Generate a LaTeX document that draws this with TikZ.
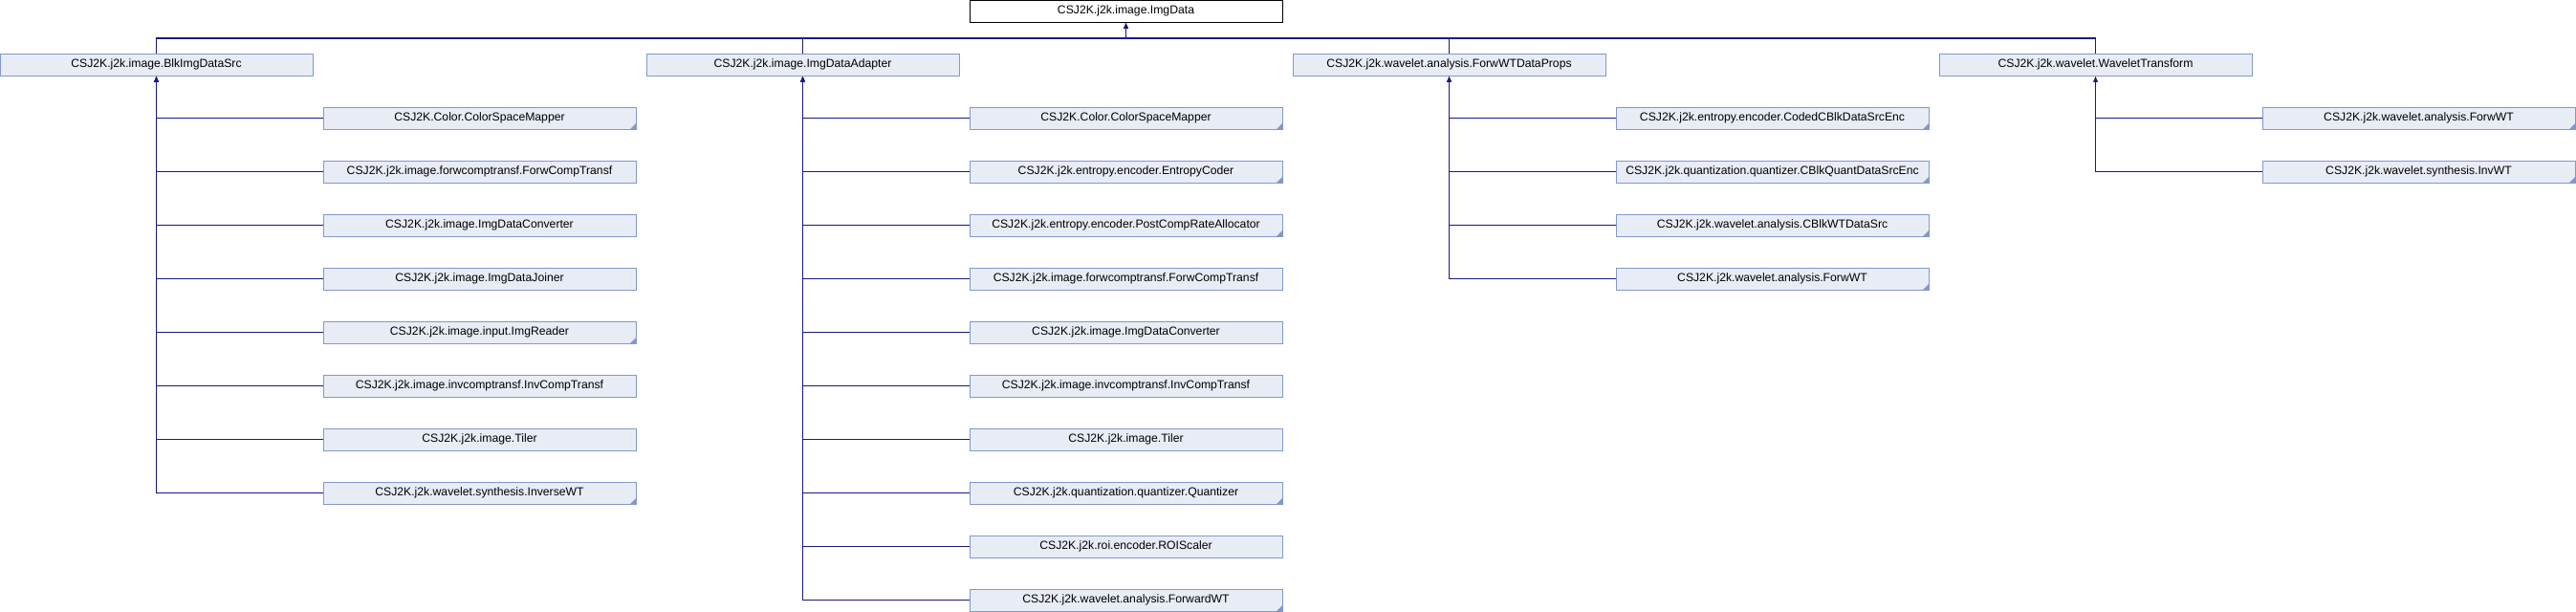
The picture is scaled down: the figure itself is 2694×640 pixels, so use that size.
\documentclass[tikz,border=0pt]{standalone}
\usepackage{fontspec}
\setmainfont{Liberation Sans}
\usetikzlibrary{arrows.meta,calc}
\definecolor{dxEdge}{RGB}{25,25,130}
\definecolor{dxLine}{RGB}{130,152,205}
\definecolor{dxFill}{RGB}{232,236,245}
\tikzset{
  box/.style={draw=dxLine, fill=dxFill, line width=1pt, minimum width=327pt,
              minimum height=23pt, inner sep=0pt, font=\fontsize{12.2}{14}\selectfont},
  topbox/.style={box, draw=black, fill=white},
  morebox/.style={box, path picture={\fill[dxLine] (path picture bounding box.south east)
              -- ++(-6pt,0pt) -- ++(6pt,6pt) -- cycle;}},
  edge/.style={-{Latex[length=6pt,width=5pt]}, line width=1.2pt, draw=dxEdge}
}
\begin{document}
\begin{tikzpicture}[x=1pt, y=-1pt]
\useasboundingbox (0,0) rectangle (2694,640);
% base class
\node[topbox] (imgdata) at (1177.5,11.5) {CSJ2K.j2k.image.ImgData};
\coordinate (bus) at (1177.5,40);
% first level
\node[box] (blksrc)  at (163.5,67.5)  {CSJ2K.j2k.image.BlkImgDataSrc};
\node[box] (adapter) at (839.5,67.5)  {CSJ2K.j2k.image.ImgDataAdapter};
\node[box] (wtprops) at (1515.5,67.5) {CSJ2K.j2k.wavelet.analysis.ForwWTDataProps};
\node[box] (wavelet) at (2191.5,67.5) {CSJ2K.j2k.wavelet.WaveletTransform};
\foreach \p in {blksrc,adapter,wtprops,wavelet}
  \draw[edge] (\p.north) |- (bus) -- (imgdata.south);
% BlkImgDataSrc
\foreach \k/\st/\t in {1/morebox/CSJ2K.Color.ColorSpaceMapper,
    2/box/CSJ2K.j2k.image.forwcomptransf.ForwCompTransf,
    3/box/CSJ2K.j2k.image.ImgDataConverter,
    4/box/CSJ2K.j2k.image.ImgDataJoiner,
    5/morebox/CSJ2K.j2k.image.input.ImgReader,
    6/box/CSJ2K.j2k.image.invcomptransf.InvCompTransf,
    7/box/CSJ2K.j2k.image.Tiler,
    8/morebox/CSJ2K.j2k.wavelet.synthesis.InverseWT}{
  \node[\st] (blk\k) at (501.5,{67.5+56*\k}) {\t};
  \draw[edge] (blk\k.west) -| (blksrc.south);
}
% ImgDataAdapter
\foreach \k/\st/\t in {1/morebox/CSJ2K.Color.ColorSpaceMapper,
    2/morebox/CSJ2K.j2k.entropy.encoder.EntropyCoder,
    3/morebox/CSJ2K.j2k.entropy.encoder.PostCompRateAllocator,
    4/box/CSJ2K.j2k.image.forwcomptransf.ForwCompTransf,
    5/box/CSJ2K.j2k.image.ImgDataConverter,
    6/box/CSJ2K.j2k.image.invcomptransf.InvCompTransf,
    7/box/CSJ2K.j2k.image.Tiler,
    8/morebox/CSJ2K.j2k.quantization.quantizer.Quantizer,
    9/box/CSJ2K.j2k.roi.encoder.ROIScaler,
    10/morebox/CSJ2K.j2k.wavelet.analysis.ForwardWT}{
  \node[\st] (ada\k) at (1177.5,{67.5+56*\k}) {\t};
  \draw[edge] (ada\k.west) -| (adapter.south);
}
% ForwWTDataProps
\foreach \k/\t in {1/CSJ2K.j2k.entropy.encoder.CodedCBlkDataSrcEnc,
    2/CSJ2K.j2k.quantization.quantizer.CBlkQuantDataSrcEnc,
    3/CSJ2K.j2k.wavelet.analysis.CBlkWTDataSrc,
    4/CSJ2K.j2k.wavelet.analysis.ForwWT}{
  \node[morebox] (wtp\k) at (1853.5,{67.5+56*\k}) {\t};
  \draw[edge] (wtp\k.west) -| (wtprops.south);
}
% WaveletTransform
\foreach \k/\t in {1/CSJ2K.j2k.wavelet.analysis.ForwWT,
    2/CSJ2K.j2k.wavelet.synthesis.InvWT}{
  \node[morebox] (wav\k) at (2529.5,{67.5+56*\k}) {\t};
  \draw[edge] (wav\k.west) -| (wavelet.south);
}
\end{tikzpicture}
\end{document}
